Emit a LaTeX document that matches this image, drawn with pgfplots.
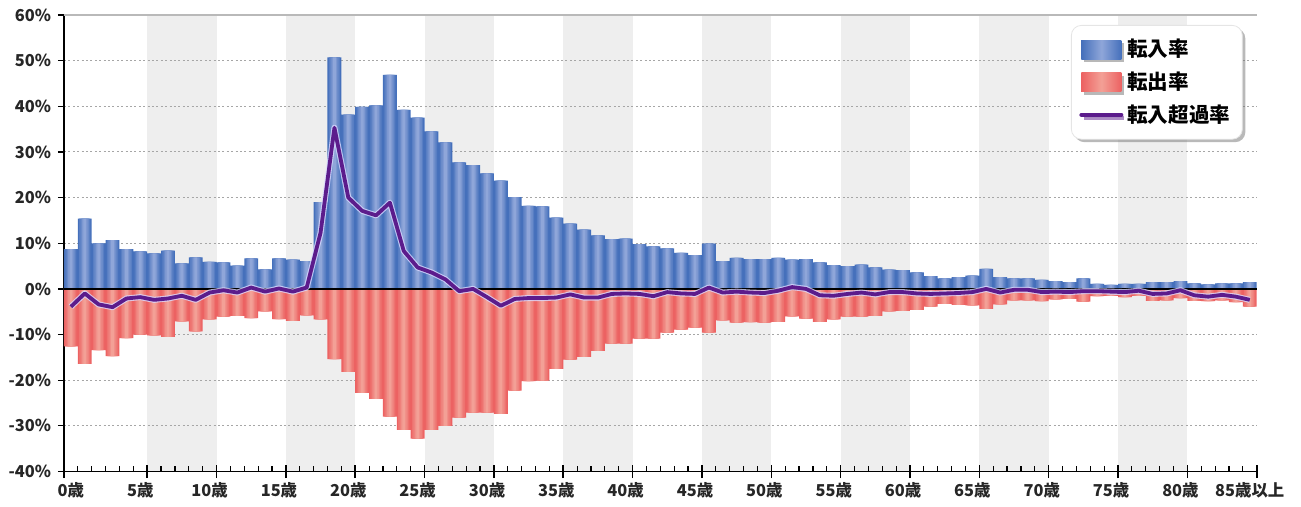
\documentclass[border=0pt]{standalone}
\usepackage{fontspec}
\setmainfont{Noto Sans CJK JP}
\usepackage{pgfplots}
\usepackage{pgfplotstable}
\pgfplotsset{compat=1.18}
\usetikzlibrary{shadows}
\definecolor{bluedark}{HTML}{4570BB}
\definecolor{bluelight}{HTML}{8FA6D9}
\definecolor{reddark}{HTML}{EC6262}
\definecolor{redlight}{HTML}{F3A096}
\definecolor{purp}{HTML}{5C1C8C}
\definecolor{band}{HTML}{EEEEEE}
\pgfplotstableread{
age in out net
0 8.7 -12.6 -3.9
1 15.4 -16.4 -1.0
2 10.0 -13.4 -3.4
3 10.7 -14.7 -4.0
4 8.7 -10.8 -2.1
5 8.2 -10.0 -1.8
6 7.8 -10.2 -2.4
7 8.4 -10.5 -2.1
8 5.6 -7.1 -1.5
9 6.9 -9.3 -2.4
10 5.9 -6.7 -0.8
11 5.8 -6.1 -0.3
12 5.1 -5.9 -0.8
13 6.7 -6.4 0.3
14 4.3 -4.9 -0.6
15 6.7 -6.6 0.1
16 6.4 -7.0 -0.6
17 6.1 -5.8 0.3
18 19.0 -6.7 12.3
19 50.7 -15.4 35.3
20 38.2 -18.2 20.0
21 39.9 -22.8 17.1
22 40.2 -24.1 16.1
23 46.9 -28.0 18.9
24 39.2 -30.9 8.3
25 37.5 -32.8 4.7
26 34.5 -30.9 3.6
27 32.1 -30.0 2.1
28 27.7 -28.2 -0.5
29 27.1 -27.1 0.0
30 25.3 -27.1 -1.8
31 23.7 -27.4 -3.7
32 20.1 -22.3 -2.2
33 18.2 -20.2 -2.0
34 18.1 -20.1 -2.0
35 15.6 -17.5 -1.9
36 14.3 -15.5 -1.2
37 13.0 -14.9 -1.9
38 11.7 -13.6 -1.9
39 10.9 -12.0 -1.1
40 11.0 -12.0 -1.0
41 9.8 -10.9 -1.1
42 9.3 -10.9 -1.6
43 8.9 -9.6 -0.7
44 7.9 -8.9 -1.0
45 7.4 -8.5 -1.1
46 9.9 -9.6 0.3
47 6.1 -6.9 -0.8
48 6.8 -7.4 -0.6
49 6.5 -7.3 -0.8
50 6.5 -7.4 -0.9
51 6.8 -7.2 -0.4
52 6.4 -6.0 0.4
53 6.5 -6.5 0.0
54 5.8 -7.2 -1.4
55 5.2 -6.7 -1.5
56 5.0 -6.1 -1.1
57 5.3 -6.1 -0.8
58 4.7 -5.9 -1.2
59 4.2 -4.9 -0.7
60 4.1 -4.8 -0.7
61 3.6 -4.6 -1.0
62 2.8 -3.9 -1.1
63 2.3 -3.3 -1.0
64 2.6 -3.5 -0.9
65 2.9 -3.6 -0.7
66 4.4 -4.4 0.0
67 2.6 -3.4 -0.8
68 2.3 -2.5 -0.2
69 2.3 -2.5 -0.2
70 2.0 -2.7 -0.7
71 1.7 -2.3 -0.6
72 1.5 -2.2 -0.7
73 2.3 -2.8 -0.5
74 1.1 -1.6 -0.5
75 0.9 -1.5 -0.6
76 1.1 -1.8 -0.7
77 1.1 -1.5 -0.4
78 1.5 -2.6 -1.1
79 1.5 -2.5 -1.0
80 1.7 -2.0 -0.3
81 1.2 -2.6 -1.4
82 1.0 -2.7 -1.7
83 1.2 -2.5 -1.3
84 1.2 -2.9 -1.7
85 1.5 -3.9 -2.4
}\data
\begin{document}
\begin{tikzpicture}
\begin{axis}[
  name=ax, set layers, clip=false,
  scale only axis, width=596.5pt, height=228.3pt,
  xmin=0, xmax=86, ymin=-40, ymax=60,
  axis lines*=left,
  axis line style={black, line width=0.8pt},
  ytick={-40,-30,...,60},
  yticklabel={\pgfmathprintnumber{\tick}\%},
  ymajorgrids,
  grid style={gray!70, line width=0.5pt, dash pattern=on 1pt off 1.2pt},
  ytick align=outside, major tick length=3pt,
  tick style={black, line width=0.6pt},
  xtick={0.5,5.5,10.5,15.5,20.5,25.5,30.5,35.5,40.5,45.5,50.5,55.5,60.5,65.5,70.5,75.5,80.5,85.5},
  xticklabels={0歳,5歳,10歳,15歳,20歳,25歳,30歳,35歳,40歳,45歳,50歳,55歳,60歳,65歳,70歳,75歳,80歳,85歳以上},
  major x tick style={draw=none},
  minor xtick={1,...,85},
  xtick align=inside, minor tick length=3pt,
  /pgf/number format/assume math mode=true,
  ticklabel style={font=\bfseries\fontsize{8.2}{9}\selectfont, text=black!85},
  xticklabel style={yshift=-2pt},
  legend style={at={(1,1)}, anchor=north east, xshift=-7pt, yshift=-5pt,
    draw=gray!20, fill=white, rounded corners=5pt,
    drop shadow={shadow xshift=1.5pt, shadow yshift=-1.5pt, fill=black!55},
    font=\bfseries\fontsize{10.3}{12}\selectfont,
    inner xsep=4pt, inner ysep=5pt, row sep=2pt,
    /tikz/every even column/.append style={column sep=2pt}},
  legend cell align=left,
]
\begin{pgfonlayer}{axis background}
\pgfplotsinvokeforeach{6,16,26,36,46,56,66,76}{
  \fill[band] (axis cs:#1,-40) rectangle (axis cs:#1+5,60);
}
\end{pgfonlayer}
% inflow bars (stepped horizontal gradient)
\addplot[ybar, bar width=1, bar shift=0pt, draw=none, fill=bluedark,
  legend image code/.code={\fill[sharp corners, left color=bluedark, right color=bluedark, middle color=bluelight] (0pt,-4.8pt) rectangle (20pt,4.8pt);}]
  table[x expr=\thisrow{age}+0.5, y=in] {\data};
\addlegendentry{転入率}
\addplot[forget plot, ybar, bar width=0.8, bar shift=0pt, draw=none, fill=bluelight!25!bluedark]
  table[x expr=\thisrow{age}+0.5, y=in] {\data};
\addplot[forget plot, ybar, bar width=0.6, bar shift=0pt, draw=none, fill=bluelight!50!bluedark]
  table[x expr=\thisrow{age}+0.5, y=in] {\data};
\addplot[forget plot, ybar, bar width=0.4, bar shift=0pt, draw=none, fill=bluelight!75!bluedark]
  table[x expr=\thisrow{age}+0.5, y=in] {\data};
\addplot[forget plot, ybar, bar width=0.2, bar shift=0pt, draw=none, fill=bluelight]
  table[x expr=\thisrow{age}+0.5, y=in] {\data};
% outflow bars
\addplot[ybar, bar width=1, bar shift=0pt, draw=none, fill=reddark,
  legend image code/.code={\fill[sharp corners, left color=reddark, right color=reddark, middle color=redlight] (0pt,-4.8pt) rectangle (20pt,4.8pt);}]
  table[x expr=\thisrow{age}+0.5, y=out] {\data};
\addlegendentry{転出率}
\addplot[forget plot, ybar, bar width=0.8, bar shift=0pt, draw=none, fill=redlight!25!reddark]
  table[x expr=\thisrow{age}+0.5, y=out] {\data};
\addplot[forget plot, ybar, bar width=0.6, bar shift=0pt, draw=none, fill=redlight!50!reddark]
  table[x expr=\thisrow{age}+0.5, y=out] {\data};
\addplot[forget plot, ybar, bar width=0.4, bar shift=0pt, draw=none, fill=redlight!75!reddark]
  table[x expr=\thisrow{age}+0.5, y=out] {\data};
\addplot[forget plot, ybar, bar width=0.2, bar shift=0pt, draw=none, fill=redlight]
  table[x expr=\thisrow{age}+0.5, y=out] {\data};
\draw[black, line width=1pt] (axis cs:0,0) -- (axis cs:86,0);
\draw[gray!55, line width=0.8pt] (axis cs:0,60) -- (axis cs:86,60);
\addplot[forget plot, sharp plot, no marks, white!85!blue, opacity=0.8, line width=3pt, line join=round]
  table[x expr=\thisrow{age}+0.5, y=net] {\data};
\addplot[sharp plot, no marks, purp, line width=1.9pt, line join=round,
  legend image code/.code={\draw[sharp corners, purp, line width=2pt, line cap=round] (0pt,0pt) -- (20pt,0pt);}]
  table[x expr=\thisrow{age}+0.5, y=net] {\data};
\addlegendentry{転入超過率}
\pgfplotsinvokeforeach{0,6,11,16,21,26,31,36,41,46,51,56,61,66,71,76,81,86}{
  \draw[black, line width=0.8pt] ([yshift=-3.3pt]axis cs:#1,-40) -- ([yshift=3.3pt]axis cs:#1,-40);
}
\end{axis}
\path (ax.south west) ++(-32pt,-17.65pt) coordinate (bl);
\path (ax.north east) ++(22.15pt,7.5pt) coordinate (tr);
\path (bl) rectangle (tr);
\end{tikzpicture}
\end{document}
